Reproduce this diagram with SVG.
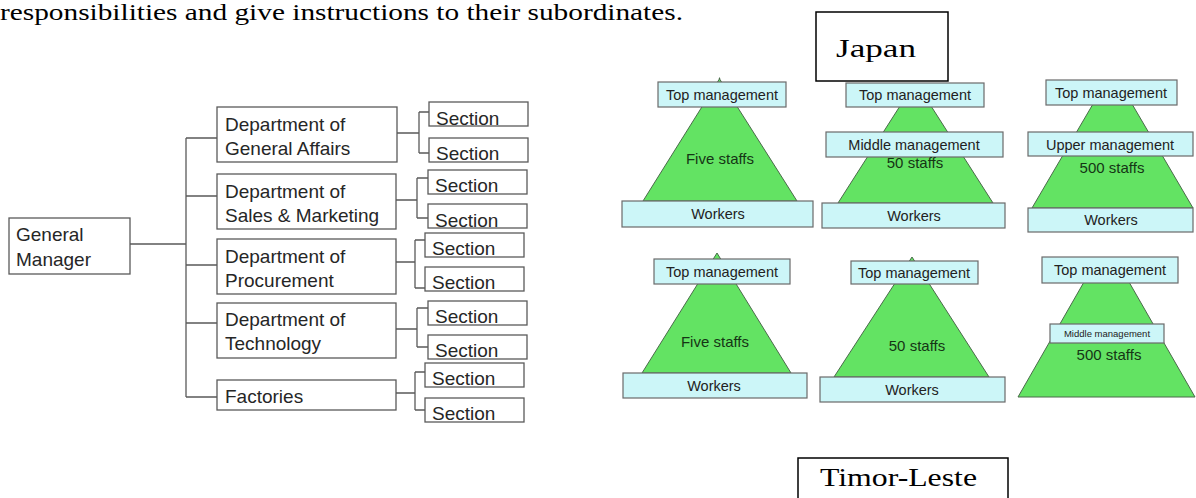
<svg xmlns="http://www.w3.org/2000/svg" width="1196" height="498" viewBox="0 0 1196 498">
  <style>
    .box { fill: #ffffff; stroke: #5a5a5a; stroke-width: 1.3; }
    .conn { fill: none; stroke: #5a5a5a; stroke-width: 1.3; }
    .lbl { font-family: "Liberation Sans", Arial, sans-serif; font-size: 19px; fill: #262626; }
    .tier { fill: #ccf6f8; stroke: #6a6a6a; stroke-width: 1.2; }
    .pyr { fill: #63e363; stroke: #4a6a4a; stroke-width: 1; }
    .pt { font-family: "Liberation Sans", Arial, sans-serif; font-size: 14.5px; fill: #222222; text-anchor: middle; }
    .pt-small { font-size: 9.5px; }
    .st { font-family: "Liberation Sans", Arial, sans-serif; font-size: 15px; fill: #153515; text-anchor: middle; }
    .serif { font-family: "Liberation Serif", "Times New Roman", serif; fill: #000000; }
    .frame { fill: #ffffff; stroke: #000000; stroke-width: 1.5; }
  </style>

  <!-- running text line -->
  <text class="serif" x="0" y="20" font-size="24" textLength="683" lengthAdjust="spacingAndGlyphs">responsibilities and give instructions to their subordinates.</text>

  <!-- org chart connectors -->
  <g id="connectors">
    <path class="conn" d="M130 244H186M186 138V397M186 138H217M186 196H217M186 265H217M186 323H217M186 397H217"/>
    <path class="conn" d="M397 133H419M419 112V153M419 112H429M419 153H429"/>
    <path class="conn" d="M396 200H417M417 178V218M417 178H428M417 218H428"/>
    <path class="conn" d="M396 262H415M415 240V288M415 240H425M415 288H425"/>
    <path class="conn" d="M396 329H417M417 308V347M417 308H428M417 347H428"/>
    <path class="conn" d="M396 393H415M415 372V410M415 372H425M415 410H425"/>
  </g>

  <g id="general-manager">
    <rect class="box" x="9" y="218" width="121" height="56"/>
    <text class="lbl" x="16" y="241">General</text>
    <text class="lbl" x="16" y="266">Manager</text>
  </g>

  <g id="dept-general-affairs">
    <rect class="box" x="217" y="107" width="180" height="55"/>
    <text class="lbl" x="225" y="131">Department of</text>
    <text class="lbl" x="225" y="155">General Affairs</text>
  </g>
  <g id="dept-sales">
    <rect class="box" x="217" y="174" width="179" height="55"/>
    <text class="lbl" x="225" y="198">Department of</text>
    <text class="lbl" x="225" y="222">Sales &amp; Marketing</text>
  </g>
  <g id="dept-procurement">
    <rect class="box" x="217" y="239" width="179" height="55"/>
    <text class="lbl" x="225" y="263">Department of</text>
    <text class="lbl" x="225" y="287">Procurement</text>
  </g>
  <g id="dept-technology">
    <rect class="box" x="217" y="303" width="179" height="55"/>
    <text class="lbl" x="225" y="326">Department of</text>
    <text class="lbl" x="225" y="350">Technology</text>
  </g>
  <g id="factories">
    <rect class="box" x="217" y="380" width="179" height="30"/>
    <text class="lbl" x="225" y="403">Factories</text>
  </g>

  <g id="section-ga-1"><rect class="box" x="429" y="102" width="99" height="24"/><text class="lbl" x="436" y="125">Section</text></g>
  <g id="section-ga-2"><rect class="box" x="429" y="138" width="99" height="24"/><text class="lbl" x="436" y="160">Section</text></g>
  <g id="section-sm-1"><rect class="box" x="428" y="170" width="99" height="24"/><text class="lbl" x="435" y="192">Section</text></g>
  <g id="section-sm-2"><rect class="box" x="428" y="204" width="99" height="24"/><text class="lbl" x="435" y="227">Section</text></g>
  <g id="section-pr-1"><rect class="box" x="425" y="233" width="99" height="24"/><text class="lbl" x="432" y="255">Section</text></g>
  <g id="section-pr-2"><rect class="box" x="425" y="267" width="99" height="24"/><text class="lbl" x="432" y="289">Section</text></g>
  <g id="section-te-1"><rect class="box" x="428" y="301" width="99" height="24"/><text class="lbl" x="435" y="323">Section</text></g>
  <g id="section-te-2"><rect class="box" x="428" y="335" width="99" height="24"/><text class="lbl" x="435" y="357">Section</text></g>
  <g id="section-fa-1"><rect class="box" x="425" y="363" width="99" height="24"/><text class="lbl" x="432" y="385">Section</text></g>
  <g id="section-fa-2"><rect class="box" x="425" y="398" width="99" height="24"/><text class="lbl" x="432" y="420">Section</text></g>

  <!-- country captions -->
  <g id="caption-japan">
    <rect class="frame" x="816" y="12" width="132" height="69"/>
    <text class="serif" x="836" y="57" font-size="26" textLength="80" lengthAdjust="spacingAndGlyphs">Japan</text>
  </g>
  <g id="caption-timor">
    <rect class="frame" x="798" y="458" width="210" height="60"/>
    <text class="serif" x="820" y="486" font-size="26" textLength="157" lengthAdjust="spacingAndGlyphs">Timor-Leste</text>
  </g>

  <!-- Japan: small company -->
  <g id="jp-small">
    <polygon class="pyr" points="719,78 720,78 643,201 797,201" />
    <rect class="tier" x="658" y="82" width="128" height="25"/>
    <text class="pt" x="722" y="100">Top management</text>
    <text class="st" x="720" y="164">Five staffs</text>
    <rect class="tier" x="622" y="201" width="191" height="26"/>
    <text class="pt" x="718" y="219">Workers</text>
  </g>

  <!-- Japan: medium company -->
  <g id="jp-medium">
    <polygon class="pyr" points="900,106 931,106 993,203 838,203"/>
    <rect class="tier" x="846" y="83" width="138" height="24"/>
    <text class="pt" x="915" y="100">Top management</text>
    <rect class="tier" x="826" y="132" width="177" height="25"/>
    <text class="pt" x="914" y="150">Middle management</text>
    <text class="st" x="915" y="168">50 staffs</text>
    <rect class="tier" x="822" y="203" width="183" height="25"/>
    <text class="pt" x="914" y="221">Workers</text>
  </g>

  <!-- Japan: large company -->
  <g id="jp-large">
    <polygon class="pyr" points="1093,104 1132,104 1193,208 1032,208"/>
    <rect class="tier" x="1046" y="80" width="131" height="25"/>
    <text class="pt" x="1111" y="98">Top management</text>
    <rect class="tier" x="1028" y="132" width="165" height="24"/>
    <text class="pt" x="1110" y="150">Upper management</text>
    <text class="st" x="1112" y="173">500 staffs</text>
    <rect class="tier" x="1028" y="208" width="165" height="24"/>
    <text class="pt" x="1111" y="225">Workers</text>
  </g>

  <!-- Timor-Leste: small company -->
  <g id="tl-small">
    <polygon class="pyr" points="717,253 642,373 791,373"/>
    <rect class="tier" x="654" y="259" width="136" height="25"/>
    <text class="pt" x="722" y="277">Top management</text>
    <text class="st" x="715" y="347">Five staffs</text>
    <rect class="tier" x="623" y="373" width="184" height="25"/>
    <text class="pt" x="714" y="391">Workers</text>
  </g>

  <!-- Timor-Leste: medium company -->
  <g id="tl-medium">
    <polygon class="pyr" points="912,257 834,377 989,377"/>
    <rect class="tier" x="851" y="261" width="127" height="23"/>
    <text class="pt" x="914" y="278">Top management</text>
    <text class="st" x="917" y="351">50 staffs</text>
    <rect class="tier" x="820" y="377" width="185" height="25"/>
    <text class="pt" x="912" y="395">Workers</text>
  </g>

  <!-- Timor-Leste: large company -->
  <g id="tl-large">
    <polygon class="pyr" points="1084,282 1129,282 1195,397 1018,397"/>
    <rect class="tier" x="1042" y="257" width="136" height="26"/>
    <text class="pt" x="1110" y="275">Top management</text>
    <rect class="tier" x="1050" y="324" width="114" height="19"/>
    <text class="pt pt-small" x="1107" y="337">Middle management</text>
    <text class="st" x="1109" y="360">500 staffs</text>
  </g>
</svg>
